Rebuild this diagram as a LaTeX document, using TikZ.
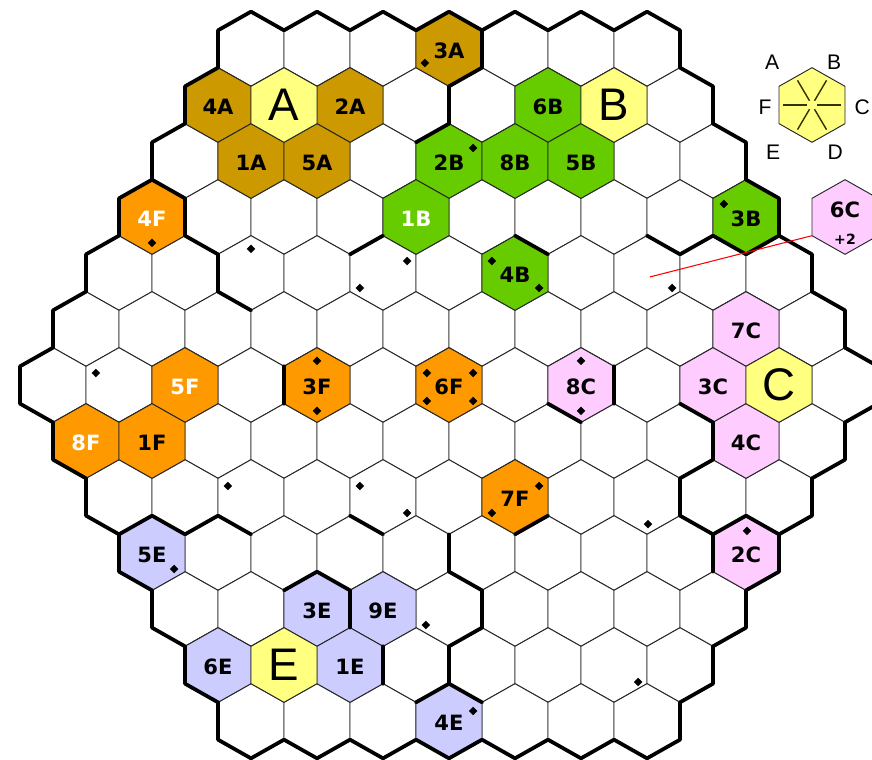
\documentclass[tikz,border=0pt]{standalone}
\usepackage{fontspec}
\setmainfont{Liberation Sans}
\newfontfamily\hexfont{DejaVu Sans}
\usetikzlibrary{calc,shapes.geometric}

\definecolor{goldA}{HTML}{CC9900}
\definecolor{greenB}{HTML}{66CC00}
\definecolor{pinkC}{HTML}{FFCCFF}
\definecolor{lilacE}{HTML}{CCCCFF}
\definecolor{orangeF}{HTML}{FF9900}
\definecolor{capital}{HTML}{FFFF80}
\definecolor{spokeol}{HTML}{333300}

% one hex cell: centre (#1,#2) on the lattice, fill #3
\newcommand{\hexcell}[3]{\filldraw[gridline, fill=#3] (#1,#2) +(0,-2) -- +(1,-1) -- +(1,1) -- +(0,2) -- +(-1,1) -- +(-1,-1) -- cycle;}

\begin{document}
\begin{tikzpicture}[x=0.99cm, y=-0.56cm,
    gridline/.style={draw=black!85, line width=0.8pt},
    edgebold/.style={line width=3.2pt, line join=round, line cap=round},
    lbl/.style={font=\hexfont\fontsize{18}{18}\selectfont\bfseries, inner sep=0pt},
    capname/.style={font=\fontsize{39}{39}\selectfont, inner sep=0pt},
    keylbl/.style={font=\fontsize{18}{18}\selectfont, inner sep=0pt},
    pip/.style={diamond, fill=black, inner sep=0pt, minimum size=0.26cm}
]
\clip (-0.6061,-0.625) rectangle (25.818,40.089);

% board
\foreach \r in {0,...,12}{
  \pgfmathtruncatemacro{\qa}{abs(\r-6)+1}
  \pgfmathtruncatemacro{\qb}{\qa+2}
  \pgfmathtruncatemacro{\qz}{25-abs(\r-6)}
  \foreach \q in {\qa,\qb,...,\qz}{\hexcell{\q}{3*\r+2}{white}}
}

% owned hexes
\foreach \q/\r/\c/\t/\tc in {13/0/goldA/3A/black, 6/1/goldA/4A/black, 10/1/goldA/2A/black,
    7/2/goldA/1A/black, 9/2/goldA/5A/black,
    16/1/greenB/6B/black, 13/2/greenB/2B/black, 15/2/greenB/8B/black, 17/2/greenB/5B/black,
    12/3/greenB/1B/white, 22/3/greenB/3B/black, 15/4/greenB/4B/black,
    22/5/pinkC/7C/black, 17/6/pinkC/8C/black, 21/6/pinkC/3C/black, 22/7/pinkC/4C/black, 22/9/pinkC/2C/black,
    4/9/lilacE/5E/black, 9/10/lilacE/3E/black, 11/10/lilacE/9E/black, 6/11/lilacE/6E/black,
    10/11/lilacE/1E/black, 13/12/lilacE/4E/black,
    4/3/orangeF/4F/white, 5/6/orangeF/5F/white, 9/6/orangeF/3F/black, 13/6/orangeF/6F/black,
    2/7/orangeF/8F/white, 4/7/orangeF/1F/black, 15/8/orangeF/7F/black}{
  \hexcell{\q}{3*\r+2}{\c}
  \node[lbl, text=\tc] (h\t) at (\q,3*\r+2.1) {\t};
}
\foreach \q/\r/\t in {8/1/A, 18/1/B, 23/6/C, 8/11/E}{
  \hexcell{\q}{3*\r+2}{capital}
  \node[capname] (cap\t) at (\q,3*\r+2) {\t};
}

% borders
\draw[edgebold] (6,1) \foreach \q in {7,9,...,19}{ -- (\q,0) -- (\q+1,1) }
  \foreach \n in {0,...,5}{ -- (20+\n,3+3*\n) -- (21+\n,4+3*\n) } -- (26,21)
  \foreach \n in {0,...,5}{ -- (25-\n,22+3*\n) -- (25-\n,24+3*\n) }
  \foreach \q in {19,17,...,7}{ -- (\q,40) -- (\q-1,39) }
  \foreach \n in {0,...,5}{ -- (6-\n,37-3*\n) -- (5-\n,36-3*\n) } -- (0,19)
  \foreach \n in {0,...,5}{ -- (1+\n,18-3*\n) -- (1+\n,16-3*\n) } -- cycle;
\draw[edgebold] (14,1) -- (14,3) -- (13,4) -- (13,6) -- (12,7);
\draw[edgebold] (11,12) -- (10,13);
\draw[edgebold] (15,12) -- (16,13);
\draw[edgebold] (19,12) -- (20,13) -- (21,12) -- (22,13) -- (23,12);
\draw[edgebold] (18,19) -- (18,21);
\draw[edgebold] (16,21) -- (17,22);
\draw[edgebold] (20,21) -- (21,22) -- (21,24) -- (20,25) -- (20,27) -- (21,28) -- (21,30);
\draw[edgebold] (21,28) -- (22,27) -- (23,28);
\draw[edgebold] (4,9) -- (5,10) -- (5,12) -- (6,13) -- (6,15) -- (7,16);
\draw[edgebold] (8,19) -- (8,21);
\draw[edgebold] (3,28) -- (4,27) -- (5,28) -- (6,27) -- (7,28);
\draw[edgebold] (10,27) -- (11,28);
\draw[edgebold] (13,28) -- (13,30) -- (14,31) -- (14,33) -- (13,34) -- (13,36) -- (12,37);
\draw[edgebold] (13,36) -- (14,37);
\draw[edgebold] (15,28) -- (16,27);
\draw[edgebold] (8,31) -- (9,30) -- (10,31) -- (10,33);
\draw[edgebold] (11,34) -- (11,36);

% markers
\foreach \a/\b in {12.27/2.75, 13.73/7.30, 4.0/12.39, 7.0/12.71, 11.73/13.36, 10.30/14.80,
    14.30/13.36, 15.73/14.80, 19.76/14.80, 21.33/10.30, 2.30/19.36, 9.0/18.71, 9.0/21.39,
    12.33/19.36, 13.73/19.36, 12.33/20.86, 13.73/20.86, 17.0/18.71, 17.0/21.39,
    6.30/25.41, 10.30/25.41, 11.73/26.86, 15.73/25.41, 14.30/26.86, 19.03/27.45, 22.03/27.82,
    4.67/29.86, 12.30/32.86, 13.73/37.46, 18.73/35.91}{
  \node[pip] at (\a,\b) {};
}

% side key
\coordinate (key) at (24,5);
\hexcell{24}{5}{capital}
\foreach \a/\b in {23.5/3.5, 24.5/3.5, 25/5, 24.5/6.5, 23.5/6.5, 23/5}{
  \draw[spokeol, line width=1.2pt] ($(key)!0.15!(\a,\b)$) -- ($(key)!0.88!(\a,\b)$);
}
\node[keylbl] (kA) at (22.79,2.70) {A};
\node[keylbl] (kB) at (24.67,2.70) {B};
\node[keylbl] (kC) at (25.52,5.11) {C};
\node[keylbl] (kD) at (24.70,7.52) {D};
\node[keylbl] (kE) at (22.82,7.52) {E};
\node[keylbl] (kF) at (22.58,5.11) {F};

% loose hex 6C
\hexcell{25}{11}{pinkC}
\node[lbl] (h6C) at (25,10.6) {6C};
\node[font=\hexfont\fontsize{12}{12}\selectfont\bfseries, inner sep=0pt] (plus) at (25,12.2) {+2};
\coordinate (aim) at (19.09,14.21);
\coordinate (c6C) at (24,12);
\draw[red, line width=0.9pt] (aim) -- (c6C);
\end{tikzpicture}
\end{document}
